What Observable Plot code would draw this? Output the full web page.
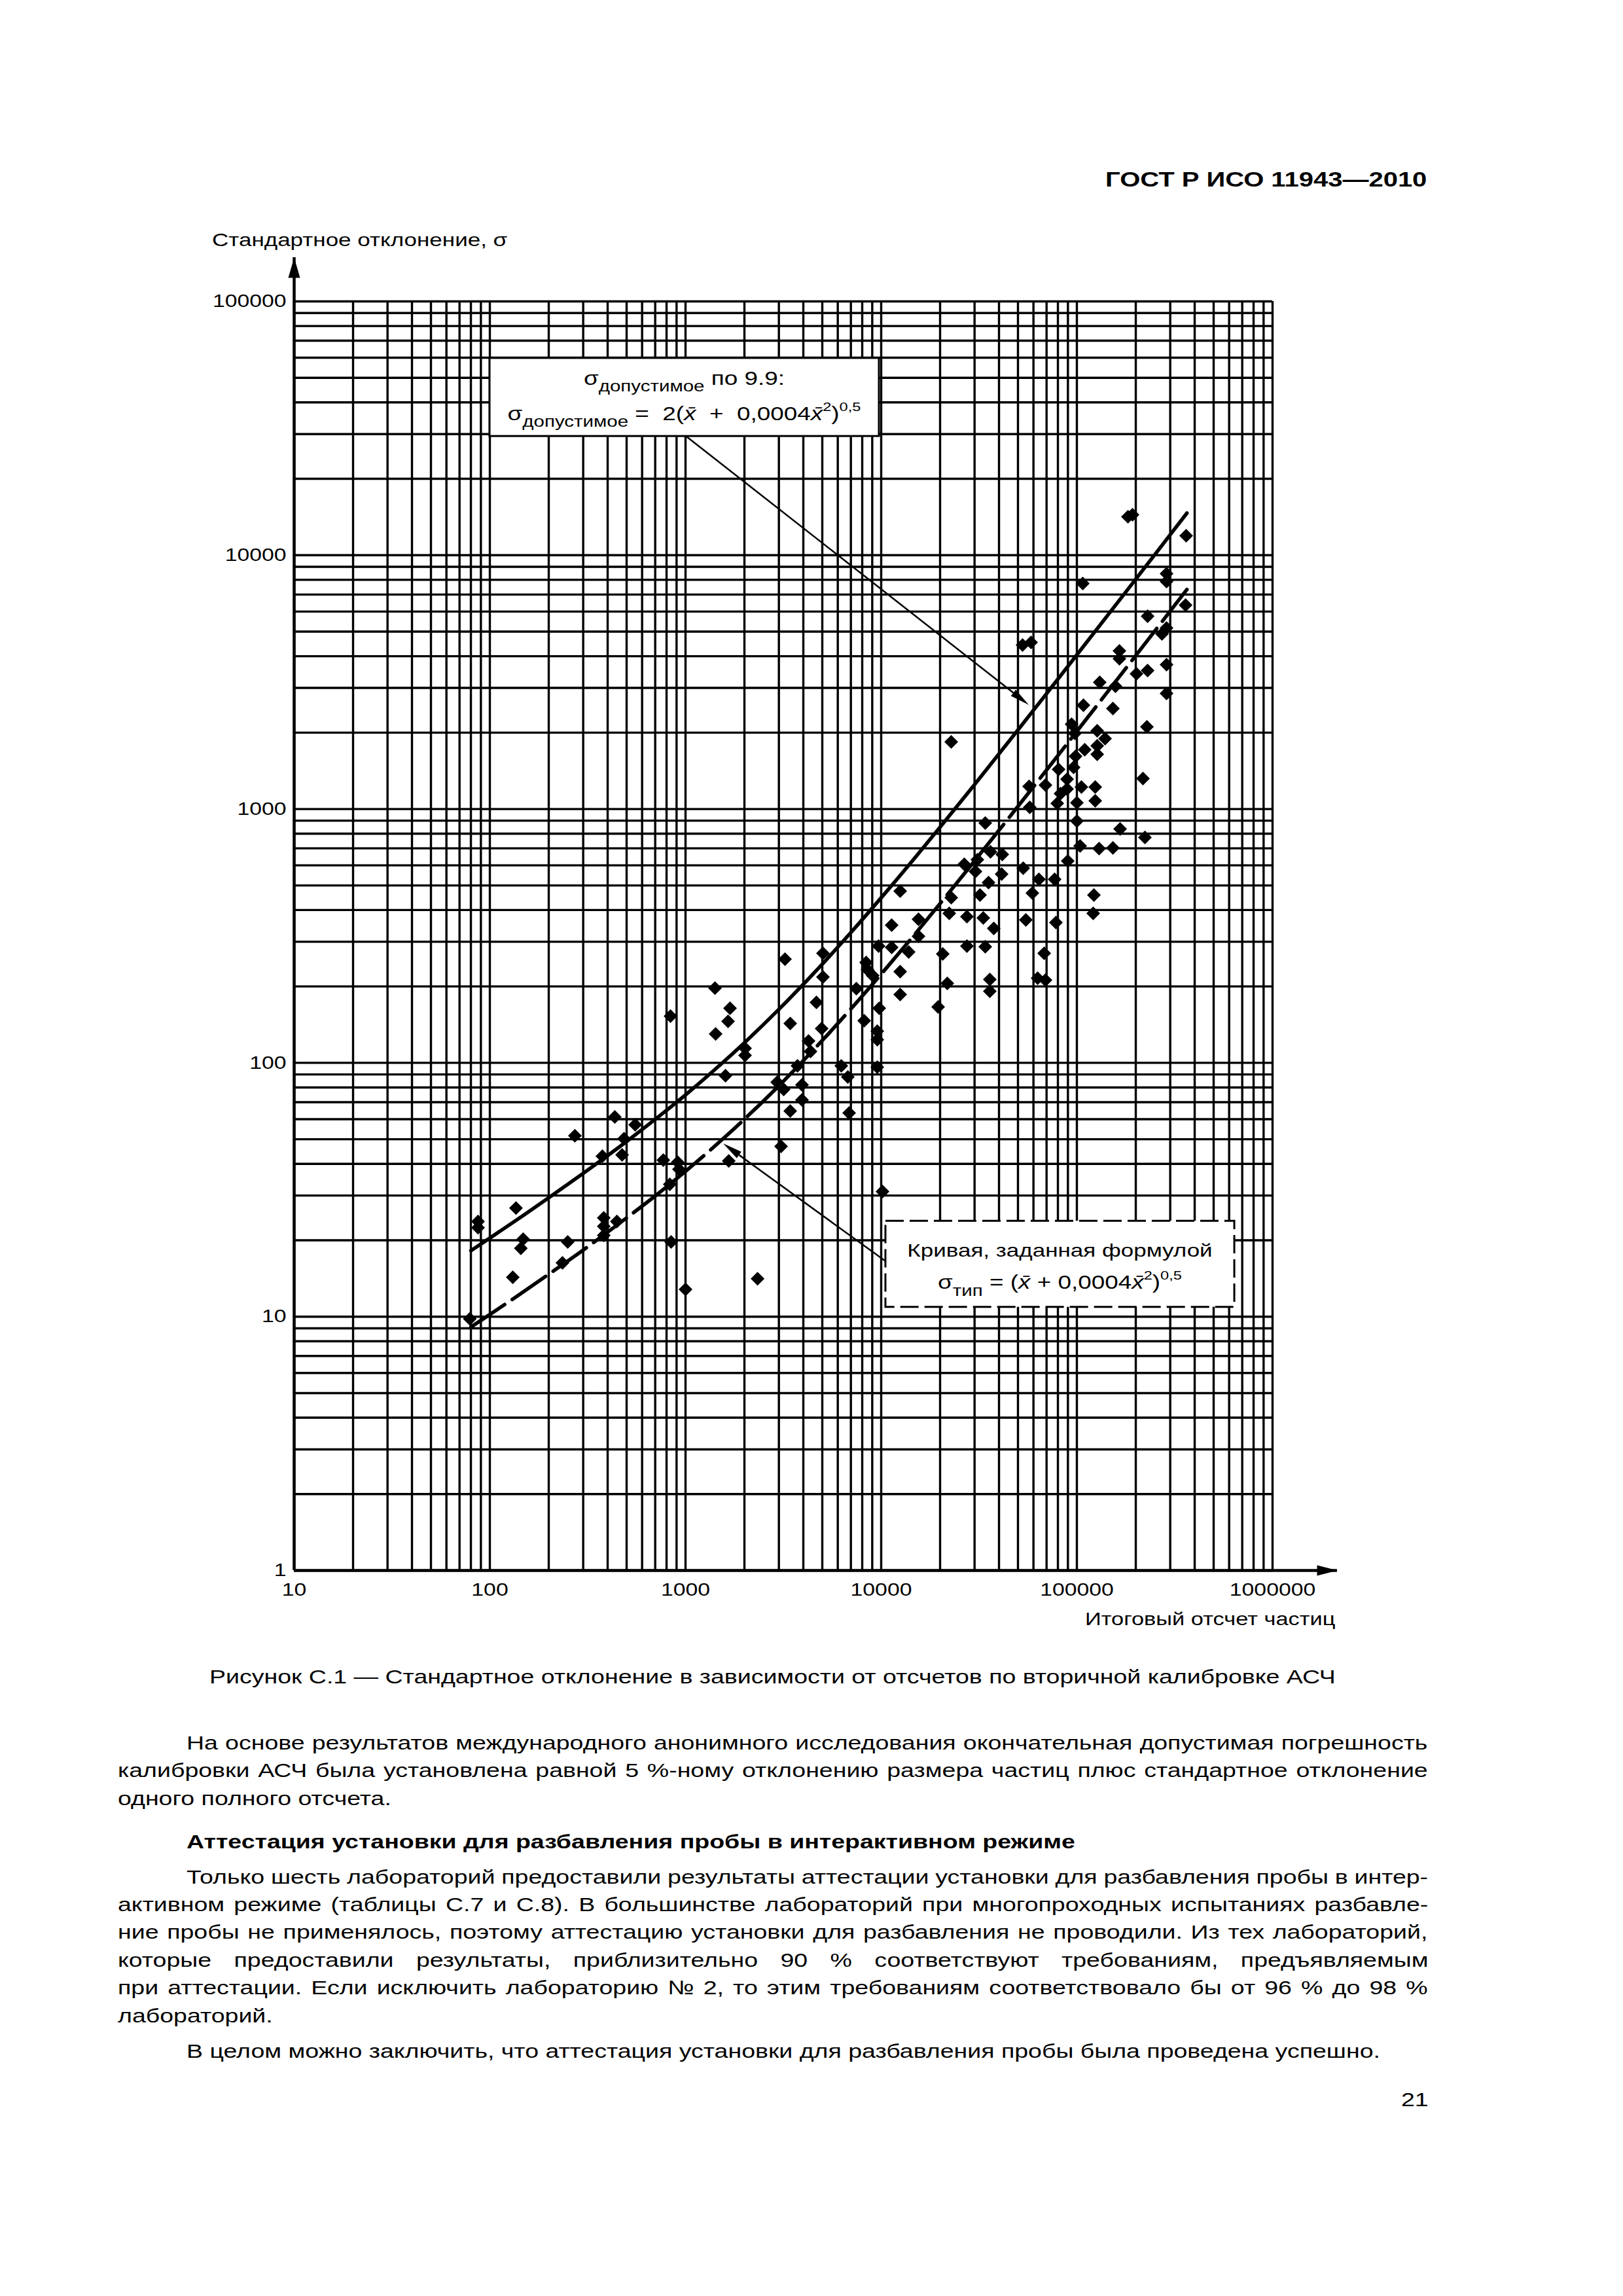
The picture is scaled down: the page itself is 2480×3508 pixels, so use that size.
<!DOCTYPE html>
<html><head><meta charset="utf-8">
<script src="https://cdn.jsdelivr.net/npm/d3@7"></script>
<script src="https://cdn.jsdelivr.net/npm/@observablehq/plot@0.6"></script>
<style>
html,body{margin:0;padding:0;background:#fff;}
#page{position:relative;width:2480px;height:3508px;background:#fff;font-family:"Liberation Sans",Arial,Helvetica,sans-serif;color:#000;overflow:hidden;}
.t{position:absolute;white-space:nowrap;line-height:1;transform-origin:0 0;}
</style></head><body><div id="page"></div>
<script>
// ---------------- data ----------------
const pointCounts = [79, 87, 87, 131, 136, 148, 144, 235, 250, 272,
 376, 382, 382, 382, 435, 446, 474, 485, 553, 770,
 831, 844, 838, 912, 926, 1000, 1414, 1425, 1600, 1650,
 1663, 1688, 2015, 2015, 2334, 2940, 3078, 3175, 3224, 3429,
 3429, 3733, 3938, 3938, 4254, 4353, 4666, 4962, 5040, 5040,
 6252, 6751, 6856, 7463, 8185, 8375, 8506, 9046, 9550, 9550,
 9550, 9696, 9772, 10155, 11310, 11310, 12500, 12500, 12500, 13820,
 15510, 15510, 19540, 20630, 21770, 22280, 22800, 27420, 27420, 26580,
 30310, 31010, 31990, 22800, 33240, 34020, 34020, 35360, 35910, 35910,
 36190, 37610, 41250, 41560, 52780, 58330, 53190, 54840, 57010, 57440,
 59240, 63000, 63980, 68060, 69110, 69110, 76980, 78160, 79380, 80630,
 82500, 89100, 89100, 89800, 94000, 96220, 97720, 98470, 100000, 100000,
 103900, 105500, 108000, 107200, 109700, 122200, 121200, 124100, 124100, 127000,
 127000, 127000, 130900, 129900, 139300, 152800, 152800, 157500, 165000, 165000,
 166300, 182400, 192400, 201600, 217700, 222800, 228000, 229800, 229800, 272100,
 287200, 287200, 287200, 287200, 287200, 359200, 361900];
const pointSigmas = [9.8, 23.7, 22.4, 14.3, 26.8, 20.2, 18.6, 16.3, 19.7, 51.6,
 42.9, 24.5, 22.7, 20.9, 61.2, 23.7, 43.4, 50.3, 57.0, 41.4,
 33.2, 19.7, 152.8, 40.6, 38.1, 12.8, 197, 130, 89.0, 145.7,
 41.1, 164, 114, 107, 14.1, 83.9, 46.9, 78.6, 256, 143,
 64.6, 97.3, 81.9, 71.5, 122, 110.9, 173, 136.5, 270, 218,
 97.3, 88.0, 63.5, 196, 146.6, 248.7, 232.9, 220.8, 133.3, 123.4,
 96.2, 288.4, 164, 31.1, 348.8, 285, 474.9, 228.8, 185.9, 273.4,
 368, 315.3, 166.1, 268.6, 205.6, 388, 447.6, 376.9, 288.4, 605.9,
 567.6, 631.5, 458.4, 1839, 372.4, 286.7, 880.7, 513.1, 213.1, 191.5,
 678.2, 338.7, 554.3, 662.2, 4428, 4534, 584.7, 365.8, 1228, 1015,
 466.6, 215.6, 528.6, 270.2, 1243, 211.8, 528.6, 357.3, 1052, 1433,
 1151, 1311, 1199, 624, 2159, 1459, 1987, 1614, 1058, 896.6,
 715.4, 1221, 2564, 7737, 1713, 458.4, 388.2, 1221, 1078, 2034,
 1775, 1643, 3157, 698.6, 1894, 2489, 702.7, 3047, 4198, 3909,
 834.8, 14180, 14440, 3410, 1319, 773, 2108, 3512, 5750, 4898,
 8460, 7877, 5168, 3706, 2854, 6361, 11930];

// the two curves as drawn
const curveCounts  = [80, 100, 150, 200, 300, 500, 700, 1000, 1500, 2000, 3000, 5000, 7000, 10000, 15000, 20000, 30000, 50000, 70000, 100000, 150000, 200000, 300000, 365000];
const sigmaAllowed = [18.2, 20.4, 25.2, 29.4, 36.7, 49.0, 59.9, 74.8, 98.0, 120, 162.5, 244.9, 326.2, 447.2, 648.1, 848.5, 1249, 2049, 2850, 4050, 6050, 8050, 12050, 14650];
const sigmaTypical = [9.1, 10.2, 12.6, 14.7, 18.3, 24.5, 29.9, 37.4, 49.0, 60.0, 81.2, 122.5, 163.1, 223.6, 324.0, 424.3, 624.5, 1024.7, 1424.8, 2024.8, 3024.9, 4024.9, 6025, 7325];

const xTickValues = [10, 100, 1000, 10000, 100000, 1000000];
const yTickValues = [1, 10, 100, 1000, 10000, 100000];

// annotation anchors (data coordinates)
const allowedBoxX = [100, 9770], allowedBoxY = [29400, 59700];
const typicalBoxX = [10550, 640000], typicalBoxY = [10.9, 23.8];
const allowedLeaderFrom = [1008, 29400], allowedLeaderTo = [57010, 2564];
const typicalLeaderFrom = [10550, 16.5], typicalLeaderTo = [1563, 48.0];
const xAxisTip = 2143000, yAxisTip = 148900;

// texts
const headerText = "ГОСТ Р ИСО 11943—2010";
const yTitle = "Стандартное отклонение, σ";
const xTitle = "Итоговый отсчет частиц";
const captionText = "Рисунок С.1 — Стандартное отклонение в зависимости от отсчетов по вторичной калибровке АСЧ";
const para1 = [
 "На основе результатов международного анонимного исследования окончательная допустимая погрешность",
 "калибровки АСЧ была установлена равной 5 %-ному отклонению размера частиц плюс стандартное отклонение",
 "одного полного отсчета."];
const headingText = "Аттестация установки для разбавления пробы в интерактивном режиме";
const para2 = [
 "Только шесть лабораторий предоставили результаты аттестации установки для разбавления пробы в интер-",
 "активном режиме (таблицы С.7 и С.8). В большинстве лабораторий при многопроходных испытаниях разбавле-",
 "ние пробы не применялось, поэтому аттестацию установки для разбавления не проводили. Из тех лабораторий,",
 "которые предоставили результаты, приблизительно 90 % соответствуют требованиям, предъявляемым",
 "при аттестации. Если исключить лабораторию № 2, то этим требованиям соответствовало бы от 96 % до 98 %",
 "лабораторий."];
const para3 = ["В целом можно заключить, что аттестация установки для разбавления пробы была проведена успешно."];
const pageNumber = "21";

const XBAR = "x\u0304";
const allowedLines = [
  [["σ","n"],["допустимое","sub"],[" по 9.9:","n"]],
  [["σ","n"],["допустимое","sub"],[" =  2(","n"],[XBAR,"i"],["  +  0,0004","n"],[XBAR,"i"],["2","sup"],[")","n"],["0,5","sup"]]
];
const typicalLines = [
  [["Кривая, заданная формулой","n"]],
  [["σ","n"],["тип","sub"],[" = (","n"],[XBAR,"i"],[" + 0,0004","n"],[XBAR,"i"],["2","sup"],[")","n"],["0,5","sup"]]
];

// ---------------- drawing ----------------
const FONT = '"Liberation Sans", Arial, Helvetica, sans-serif';
const STRETCH = 1.25;   // the page's type is set wide
const points = pointCounts.map((c, i) => ({count: c, sigma: pointSigmas[i]}));
const curveA = curveCounts.map((c, i) => ({count: c, sigma: sigmaAllowed[i]}));
const curveT = curveCounts.map((c, i) => ({count: c, sigma: sigmaTypical[i]}));

const xGrid = [], yGrid = [];
for (let e = 1; e <= 6; e++) for (let k = 1; k <= 9; k++) { const v = k * 10 ** e; if (v <= 1e6) xGrid.push(v); }
for (let e = 0; e <= 5; e++) for (let k = 1; k <= 9; k++) { const v = k * 10 ** e; if (v <= 1e5) yGrid.push(v); }

const diamond = {draw(ctx) { const h = 10.5; ctx.moveTo(0, -h); ctx.lineTo(h, 0); ctx.lineTo(0, h); ctx.lineTo(-h, 0); ctx.closePath(); }};
const arrowUp = {draw(ctx) { ctx.moveTo(0, 0); ctx.lineTo(9, 31); ctx.lineTo(-9, 31); ctx.closePath(); }};
const arrowRight = {draw(ctx) { ctx.moveTo(0, 0); ctx.lineTo(-31, -8); ctx.lineTo(-31, 8); ctx.closePath(); }};

function leaderMark(leaders) {
  return (index, scales) => {
    const g = d3.create("svg:g");
    for (const [from, to] of leaders) {
      const x1 = scales.x(from[0]), y1 = scales.y(from[1]);
      const x2 = scales.x(to[0]), y2 = scales.y(to[1]);
      const a = Math.atan2(y2 - y1, x2 - x1), len = 30, hw = 6;
      const bx = x2 - len * Math.cos(a), by = y2 - len * Math.sin(a);
      g.append("line").attr("x1", x1).attr("y1", y1).attr("x2", bx).attr("y2", by)
        .attr("stroke", "black").attr("stroke-width", 2.5);
      g.append("path").attr("fill", "black")
        .attr("d", `M${x2},${y2}L${bx - hw * Math.sin(a)},${by + hw * Math.cos(a)}L${bx + hw * Math.sin(a)},${by - hw * Math.cos(a)}Z`);
    }
    return g.node();
  };
}

function noteTextMark(notes) {
  return (index, scales) => {
    const g = d3.create("svg:g").attr("font-family", FONT).attr("fill", "black");
    for (const note of notes) {
      const cx = scales.x(Math.sqrt(note.bx[0] * note.bx[1]));
      const cy = scales.y(Math.sqrt(note.by[0] * note.by[1]));
      note.lines.forEach((segs, li) => {
        const size = note.sizes[li];
        const text = g.append("text").attr("x", cx).attr("y", cy + note.dys[li])
          .attr("text-anchor", "middle").attr("font-size", size).style("white-space", "pre");
        let off = 0;
        for (const [s, kind] of segs) {
          const target = kind === "sub" ? size * 0.36 : kind === "sup" ? -size * 0.47 : 0;
          const ts = text.append("tspan").attr("dy", target - off).text(s);
          off = target;
          if (kind === "sub") ts.attr("font-size", size * 0.8);
          if (kind === "sup") ts.attr("font-size", size * 0.64);
          if (kind === "i") ts.attr("font-style", "italic");
        }
      });
    }
    return g.node();
  };
}

const chart = Plot.plot({
  width: 2100, height: 2240,
  marginLeft: 449, marginRight: 156, marginTop: 160, marginBottom: 141,
  style: {fontFamily: FONT, fontSize: "27px", color: "black", background: "white", overflow: "visible"},
  x: {type: "log", domain: [10, 1e6], ticks: xTickValues, tickFormat: d => String(d), tickSize: 0, tickPadding: 19, label: null},
  y: {type: "log", domain: [1, 1e5], ticks: yTickValues, tickFormat: d => String(d), tickSize: 0, tickPadding: 12, label: null},
  marks: [
    Plot.ruleX(xGrid, {y1: 1, y2: 1e5, stroke: "black", strokeWidth: 3.4}),
    Plot.ruleY(yGrid, {x1: 10, x2: 1e6, stroke: "black", strokeWidth: 3.4}),
    Plot.ruleX([10], {y1: 1, y2: yAxisTip, stroke: "black", strokeWidth: 4.5}),
    Plot.ruleY([1], {x1: 10, x2: xAxisTip, stroke: "black", strokeWidth: 4.5}),
    Plot.dot([{x: 10, y: yAxisTip}], {x: "x", y: "y", symbol: arrowUp, fill: "black", stroke: "none"}),
    Plot.dot([{x: xAxisTip, y: 1}], {x: "x", y: "y", symbol: arrowRight, fill: "black", stroke: "none"}),
    Plot.line(curveA, {x: "count", y: "sigma", stroke: "black", strokeWidth: 5.5, curve: "monotone-x"}),
    Plot.line(curveT, {x: "count", y: "sigma", stroke: "black", strokeWidth: 5.5, curve: "monotone-x", strokeDasharray: "62,14"}),
    Plot.dot(points, {x: "count", y: "sigma", symbol: diamond, fill: "black", stroke: "none"}),
    Plot.rect([{x1: allowedBoxX[0], x2: allowedBoxX[1], y1: allowedBoxY[0], y2: allowedBoxY[1]}],
      {x1: "x1", x2: "x2", y1: "y1", y2: "y2", fill: "white", stroke: "black", strokeWidth: 3}),
    Plot.rect([{x1: typicalBoxX[0], x2: typicalBoxX[1], y1: typicalBoxY[0], y2: typicalBoxY[1]}],
      {x1: "x1", x2: "x2", y1: "y1", y2: "y2", fill: "white", stroke: "black", strokeWidth: 3, strokeDasharray: "28,9"}),
    leaderMark([[allowedLeaderFrom, allowedLeaderTo], [typicalLeaderFrom, typicalLeaderTo]]),
    noteTextMark([
      {bx: allowedBoxX, by: allowedBoxY, lines: allowedLines, sizes: [29.5, 29.5], dys: [-19, 35]},
      {bx: typicalBoxX, by: typicalBoxY, lines: typicalLines, sizes: [28, 29.5], dys: [-11, 38]}
    ])
  ]
});
// widen every text of the chart around its own anchor, like the page's type
chart.querySelectorAll("text").forEach(el => {
  const t = el.getAttribute("transform") || "";
  const x = parseFloat(el.getAttribute("x")) || 0, y = parseFloat(el.getAttribute("y")) || 0;
  el.setAttribute("transform", `${t} translate(${x},${y}) scale(${STRETCH},1) translate(${-x},${-y})`);
});
const page = document.getElementById("page");
chart.style.position = "absolute";
chart.style.left = "0px";
chart.style.top = "300px";
page.appendChild(chart);

function addText(str, o) {
  const d = document.createElement("div");
  d.className = "t";
  d.textContent = str;
  d.style.fontSize = o.size + "px";
  if (o.bold) d.style.fontWeight = "bold";
  d.style.top = (o.baseline - 0.8465 * o.size) + "px";
  d.style.transform = `scaleX(${STRETCH})`;
  page.appendChild(d);
  let w = d.offsetWidth;
  if (o.justifyTo != null) {
    const n = (str.match(/ /g) || []).length;
    if (n > 0) { d.style.wordSpacing = (((o.justifyTo - o.left) / STRETCH - w) / n) + "px"; }
    w = d.offsetWidth;
  }
  let left = o.left;
  if (o.right != null) left = o.right - w * STRETCH;
  if (o.center != null) left = o.center - w * STRETCH / 2;
  d.style.left = left + "px";
  return d;
}

const TL = 180, TR = 2182, IND = 105;
addText(headerText, {size: 32, bold: true, baseline: 285, right: 2180});
addText(yTitle, {size: 28, baseline: 377, left: 324});
addText(xTitle, {size: 27.5, baseline: 2483, right: 2040});
addText(captionText, {size: 30, baseline: 2572, center: (TL + TR) / 2});

function addPara(lines, startY, step, bold) {
  lines.forEach((s, i) => {
    const left = i === 0 ? TL + IND : TL;
    const last = i === lines.length - 1;
    addText(s, {size: 30, bold, baseline: startY + i * step, left, justifyTo: last ? null : TR});
  });
}
addPara(para1, 2673, 42.5, false);
addPara([headingText], 2824, 42.5, true);
addPara(para2, 2878, 42.4, false);
addPara(para3, 3144, 42.4, false);
addText(pageNumber, {size: 30, baseline: 3218, right: 2182});
</script></body></html>
